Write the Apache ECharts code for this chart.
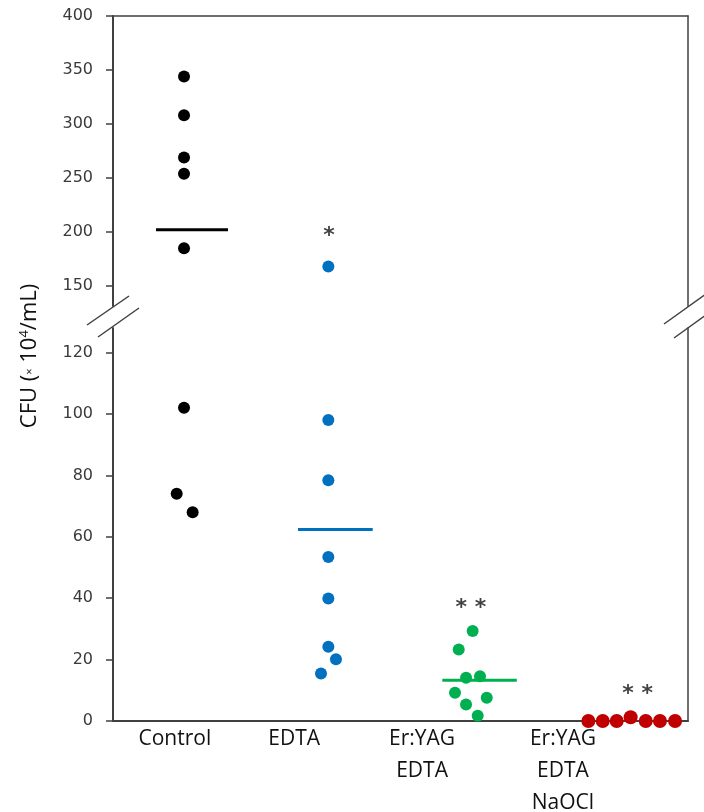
<!DOCTYPE html>
<html>
<head>
<meta charset="utf-8">
<title>CFU</title>
<script src="https://cdn.jsdelivr.net/npm/echarts@6/dist/echarts.min.js"></script>
<style>
  html,body{margin:0;padding:0;background:#fff;}
  #main{width:704px;height:812px;}
</style>
</head>
<body>
<div id="main"></div>
<script>
// ---- data ----
var groupNames = ['Control', 'EDTA', 'Er:YAG\nEDTA', 'Er:YAG\nEDTA\nNaOCl'];
var groupLabelAt = [0.43, 1.26, 2.15, 3.13];
var groupColors = ['#000000', '#0070C0', '#00B050', '#C00000'];

var controlX = [0.494, 0.494, 0.494, 0.494, 0.494, 0.494, 0.443, 0.554];
var controlY = [344, 308, 269, 254, 185, 102, 74, 68];
var edtaX = [1.498, 1.498, 1.498, 1.498, 1.498, 1.498, 1.551, 1.447];
var edtaY = [168, 98, 78.4, 53.4, 39.9, 24.2, 20.1, 15.5];
var yagX = [2.502, 2.405, 2.456, 2.553, 2.379, 2.600, 2.456, 2.537];
var yagY = [29.3, 23.3, 14.1, 14.6, 9.2, 7.6, 5.4, 1.7];
var naoX = [3.307, 3.407, 3.504, 3.601, 3.706, 3.805, 3.910];
var naoY = [0, 0, 0, 1.2, 0, 0, 0];

// mean bars (Control, EDTA, Er:YAG EDTA)
var meanVal = [202, 62.4, 13.3];
var meanFrom = [0.299, 1.287, 2.291];
var meanTo = [0.80, 1.807, 2.809];

// significance marks
var starText = ['*', '* *', '* *'];
var starX = [1.503, 2.49, 3.65];
var starY = [202, 38.8, 10.8];

var upperTicks = [150, 200, 250, 300, 350, 400];
var lowerTicks = [0, 20, 40, 60, 80, 100, 120];
var upperMin = 131.5, upperMax = 400;
var lowerMin = 0, lowerMax = 128;

// ---- layout ----
var gLeft = 113, gRight = 688;
var upTop = 16, upBottom = 306;
var lowTop = 328, lowBottom = 721;
var axisColor = '#404040';

function pairs(xs, ys, upper) {
  var out = [];
  for (var i = 0; i < ys.length; i++) {
    var isUp = ys[i] >= upperMin;
    if (isUp === upper) out.push([xs[i], ys[i]]);
  }
  return out;
}

function yAxisLeft(gridIdx, min, max, ticks) {
  return {
    gridIndex: gridIdx, type: 'value', min: min, max: max, position: 'left',
    axisLine: { show: true, onZero: false, lineStyle: { color: axisColor, width: 2 } },
    axisTick: { show: true, length: 7, customValues: ticks, lineStyle: { color: axisColor, width: 1.5 } },
    axisLabel: { customValues: ticks, margin: 20, color: '#3a3a3a', fontFamily: 'DejaVu Sans', fontSize: 16 },
    splitLine: { show: false }
  };
}
function yAxisRight(gridIdx, min, max) {
  return {
    gridIndex: gridIdx, type: 'value', min: min, max: max, position: 'right',
    axisLine: { show: true, onZero: false, lineStyle: { color: axisColor, width: 1.5 } },
    axisTick: { show: false }, axisLabel: { show: false }, splitLine: { show: false }
  };
}

var series = [];
var groups = [[controlX, controlY], [edtaX, edtaY], [yagX, yagY], [naoX, naoY]];
groups.forEach(function (g, k) {
  [true, false].forEach(function (up) {
    var d = pairs(g[0], g[1], up);
    if (!d.length) return;
    series.push({
      type: 'scatter', xAxisIndex: up ? 0 : 1, yAxisIndex: up ? 0 : 2,
      symbolSize: k === 3 ? 14 : 12, clip: false, z: 5,
      itemStyle: { color: groupColors[k], opacity: 1 },
      data: d
    });
  });
});
meanVal.forEach(function (m, k) {
  var up = m >= upperMin;
  series.push({
    type: 'line', xAxisIndex: up ? 0 : 1, yAxisIndex: up ? 0 : 2,
    symbol: 'none', z: 4,
    lineStyle: { color: groupColors[k], width: 3 },
    data: [[meanFrom[k], m], [meanTo[k], m]]
  });
});
starText.forEach(function (t, k) {
  var up = starY[k] >= upperMin;
  series.push({
    type: 'scatter', xAxisIndex: up ? 0 : 1, yAxisIndex: up ? 0 : 2,
    symbolSize: 1, itemStyle: { color: 'rgba(0,0,0,0)' }, clip: false,
    label: { show: true, position: 'inside', offset: [0, 6], formatter: t,
      color: '#111', fontFamily: 'DejaVu Sans', fontWeight: 'bold', fontSize: 22 },
    data: [[starX[k], starY[k]]]
  });
});

// axis-break marks
var breakMarks = [
  [gLeft - 26, 325, gLeft + 16, 296], [gLeft - 15, 337, gLeft + 26, 308],
  [gRight - 24, 324, gRight + 22, 291], [gRight - 14, 338, gRight + 22, 312]
].map(function (s) {
  return { type: 'line', shape: { x1: s[0], y1: s[1], x2: s[2], y2: s[3] },
    style: { stroke: axisColor, lineWidth: 1.5 }, z: 10 };
});

var myChart = echarts.init(document.getElementById('main'));
var option = {
  backgroundColor: '#fff',
  animation: false,
  grid: [
    { left: gLeft, right: 704 - gRight, top: upTop, height: upBottom - upTop, outerBoundsMode: 'none', containLabel: false },
    { left: gLeft, right: 704 - gRight, top: lowTop, height: lowBottom - lowTop, outerBoundsMode: 'none', containLabel: false }
  ],
  xAxis: [
    { gridIndex: 0, type: 'value', min: 0, max: 4, position: 'top',
      axisLine: { show: true, onZero: false, lineStyle: { color: axisColor, width: 1.5 } },
      axisTick: { show: false }, axisLabel: { show: false }, splitLine: { show: false } },
    { gridIndex: 1, type: 'value', min: 0, max: 4, position: 'bottom',
      axisLine: { show: true, onZero: false, lineStyle: { color: axisColor, width: 2 } },
      axisTick: { show: false }, splitLine: { show: false },
      axisLabel: {
        customValues: groupLabelAt, margin: 2,
        color: '#111', fontFamily: 'Open Sans', fontSize: 21, lineHeight: 32,
        formatter: function (v) {
          var i = groupLabelAt.indexOf(v);
          return i >= 0 ? groupNames[i] : '';
        }
      } }
  ],
  yAxis: [
    yAxisLeft(0, upperMin, upperMax, upperTicks),
    yAxisRight(0, upperMin, upperMax),
    yAxisLeft(1, lowerMin, lowerMax, lowerTicks),
    yAxisRight(1, lowerMin, lowerMax)
  ],
  graphic: breakMarks.concat([{
    type: 'text', x: 30, y: 356, rotation: Math.PI / 2, z: 10,
    style: {
      text: '{a|CFU (}{x|×}{a| 10}{s|4}{a|/mL)}',
      align: 'center', verticalAlign: 'middle',
      rich: {
        a: { fontFamily: 'Open Sans', fontSize: 22, fill: '#111' },
        x: { fontFamily: 'Open Sans', fontSize: 11, fill: '#111' },
        s: { fontFamily: 'Open Sans', fontSize: 13, fill: '#111', verticalAlign: 'top', padding: [0, 0, 11, 0] }
      }
    }
  }]),
  series: series
};
myChart.setOption(option);
</script>
</body>
</html>
